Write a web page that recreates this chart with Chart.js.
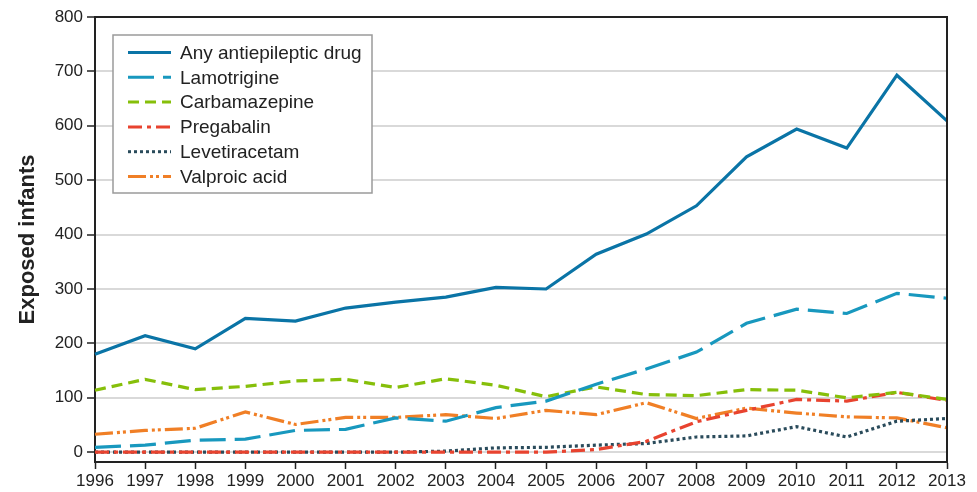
<!DOCTYPE html>
<html>
<head>
<meta charset="utf-8">
<script src="https://cdn.jsdelivr.net/npm/chart.js@4"></script>
<style>
  html, body { margin: 0; padding: 0; background: #fff; }
  #wrap { width: 977px; height: 492px; }
</style>
</head>
<body>
<div id="wrap"><canvas id="chart" width="977" height="492"></canvas></div>
<script>
// ======== dados ========
const years = ['1996', '1997', '1998', '1999', '2000', '2001', '2002', '2003', '2004',
    '2005', '2006', '2007', '2008', '2009', '2010', '2011', '2012', '2013']

const anyAed = [180, 214, 190, 246, 241, 265, 276, 285, 303, 300, 364, 401, 453, 543, 594, 559, 693, 609]
const lamotrigine = [9, 13, 22, 24, 40, 42, 63, 57, 82, 94, 125, 153, 184, 237, 263, 255, 292, 283]
const carbamazepine = [114, 134, 115, 121, 131, 134, 119, 135, 123, 102, 120, 106, 104, 115, 114, 100, 110, 97]
const pregabalin = [0, 0, 0, 0, 0, 0, 0, 0, 0, 0, 5, 20, 56, 77, 97, 94, 110, 95]
const levetiracetam = [0, 0, 0, 0, 0, 0, 0, 2, 8, 9, 13, 16, 28, 30, 47, 28, 57, 62]
const valproicAcid = [33, 40, 44, 74, 51, 64, 64, 69, 62, 77, 69, 91, 62, 81, 72, 65, 63, 45]

const yTicks = [0, 100, 200, 300, 400, 500, 600, 700, 800]

const fontFamily = 'Arial, "Liberation Sans", Helvetica, sans-serif'

// legenda desenhada dentro da área do gráfico
const innerLegend = {
    id: 'innerLegend',
    afterDraw(chart) {
        const ctx = chart.ctx
        const area = chart.chartArea
        // moldura superior e direita
        ctx.save()
        ctx.strokeStyle = '#222'
        ctx.lineWidth = 2
        ctx.beginPath()
        ctx.moveTo(area.left, area.top)
        ctx.lineTo(area.right, area.top)
        ctx.lineTo(area.right, area.bottom)
        ctx.stroke()

        const x0 = 113, y0 = 35, w = 259, h = 158
        ctx.fillStyle = '#fff'
        ctx.fillRect(x0, y0, w, h)
        ctx.strokeStyle = '#9a9a9a'
        ctx.lineWidth = 1.5
        ctx.strokeRect(x0, y0, w, h)

        ctx.font = '19px ' + fontFamily
        ctx.textBaseline = 'middle'
        chart.data.datasets.forEach((ds, i) => {
            const y = y0 + 17.5 + i * 24.8
            ctx.strokeStyle = ds.borderColor
            ctx.lineWidth = 3
            ctx.setLineDash(ds.borderDash || [])
            ctx.beginPath()
            ctx.moveTo(x0 + 15, y)
            ctx.lineTo(x0 + 58, y)
            ctx.stroke()
            ctx.setLineDash([])
            ctx.fillStyle = '#222'
            ctx.fillText(ds.label, x0 + 67, y + 1)
        })
        ctx.restore()
    }
}

function serie(label, data, color, dash) {
    return {
        label: label,
        data: data,
        borderColor: color,
        backgroundColor: color,
        borderWidth: 3.2,
        borderDash: dash,
        pointRadius: 0,
        tension: 0,
        fill: false
    }
}

const ctx = document.getElementById('chart').getContext('2d')
new Chart(ctx, {
    type: 'line',
    data: {
        labels: years,
        datasets: [
            serie('Any antiepileptic drug', anyAed, '#0a74a6', []),
            serie('Lamotrigine', lamotrigine, '#1898be', [26, 9]),
            serie('Carbamazepine', carbamazepine, '#86bf0a', [11, 6]),
            serie('Pregabalin', pregabalin, '#e8432f', [14, 5, 4, 5]),
            serie('Levetiracetam', levetiracetam, '#2a4b5b', [3, 3]),
            serie('Valproic acid', valproicAcid, '#f07f26', [18, 4, 3, 3, 3, 4])
        ]
    },
    options: {
        responsive: false,
        animation: false,
        layout: { padding: { top: 17, right: 30, left: 0, bottom: 0 } },
        plugins: {
            legend: { display: false },
            tooltip: { enabled: false }
        },
        scales: {
            x: {
                type: 'category',
                offset: false,
                grid: {
                    drawOnChartArea: false,
                    drawTicks: true,
                    tickLength: 7,
                    tickColor: '#222',
                    tickWidth: 1.5
                },
                border: { display: true, color: '#222', width: 2 },
                ticks: {
                    color: '#222',
                    font: { size: 17, family: fontFamily },
                    maxRotation: 0,
                    autoSkip: false,
                    padding: 2
                },
                afterFit(scale) { scale.height = 30 }
            },
            y: {
                min: -18,
                max: 800,
                afterBuildTicks(scale) {
                    scale.ticks = yTicks.map(v => ({ value: v }))
                },
                grid: {
                    color: '#d9d9d9',
                    lineWidth: 2,
                    drawTicks: true,
                    tickLength: 8,
                    tickColor: '#222',
                    tickWidth: 1.5
                },
                border: { display: true, color: '#222', width: 2 },
                ticks: {
                    color: '#222',
                    font: { size: 17, family: fontFamily },
                    padding: 4
                },
                title: {
                    display: true,
                    text: 'Exposed infants',
                    color: '#222',
                    font: { size: 22, weight: 'bold', family: fontFamily },
                    padding: { top: 15, bottom: 0 }
                },
                afterFit(scale) { scale.width = 95 }
            }
        }
    },
    plugins: [innerLegend]
})
</script>
</body>
</html>
